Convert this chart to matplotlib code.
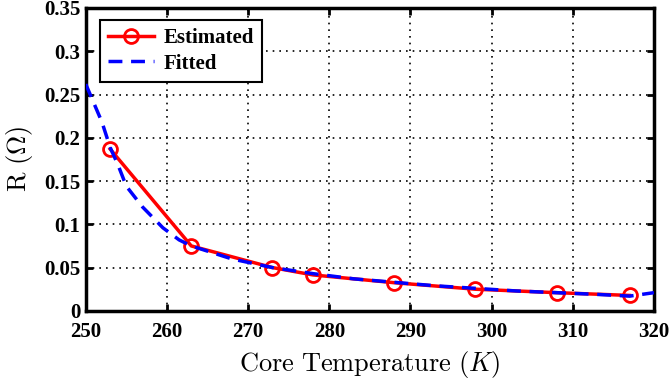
import numpy as np
import matplotlib.pyplot as plt

plt.rcParams['mathtext.fontset'] = 'cm'

# estimated resistance
est_temp = [253, 263, 273, 278, 288, 298, 308, 317]
est_r = [0.187, 0.075, 0.050, 0.0415, 0.0325, 0.025, 0.021, 0.0178]

# fitted curve
fit_temp = [250, 251, 252, 253, 254, 255, 257, 259.5, 261.5, 263, 265, 268,
            270, 273, 278, 283, 288, 293, 298, 303, 308, 313, 317, 320]
fit_r = [0.262, 0.240, 0.218, 0.189, 0.168, 0.144, 0.120, 0.096, 0.082, 0.075,
         0.069, 0.060, 0.056, 0.050, 0.043, 0.037, 0.033, 0.029, 0.026, 0.023,
         0.021, 0.019, 0.017, 0.021]

xticks = [250, 260, 270, 280, 290, 300, 310, 320]
yticks = [0, 0.05, 0.1, 0.15, 0.2, 0.25, 0.3, 0.35]
ytick_labels = ['0', '0.05', '0.1', '0.15', '0.2', '0.25', '0.3', '0.35']

fig = plt.figure(figsize=(6.7, 3.8), dpi=100)
ax = fig.add_axes([0.128, 0.182, 0.848, 0.797])

ax.plot(est_temp, est_r, '-o', color='red', lw=2.5, markersize=10,
        markerfacecolor='none', markeredgewidth=2, label='Estimated', zorder=3)
ax.plot(fit_temp, fit_r, '--', color='blue', lw=2.5, dashes=(4, 2.5),
        label='Fitted', zorder=4)

ax.set_xlim(250, 320)
ax.set_ylim(0, 0.35)
ax.set_xticks(xticks)
ax.set_yticks(yticks)
ax.set_yticklabels(ytick_labels)
for lab in ax.get_xticklabels() + ax.get_yticklabels():
    lab.set_fontfamily('Liberation Serif')
    lab.set_fontweight('bold')
    lab.set_fontsize(15)
ax.tick_params(direction='in', length=5, width=2, top=True, right=True)
ax.tick_params(axis='x', pad=8)
ax.tick_params(axis='y', pad=4)

ax.grid(True, color='black', linestyle=(0, (1, 3)), lw=1.2)
for s in ax.spines.values():
    s.set_linewidth(2.5)

ax.set_xlabel(r'$\mathrm{Core\ Temperature\ }(K)$', fontsize=19, labelpad=5)
ax.set_ylabel(r'$\mathrm{R\ (\Omega)}$', fontsize=19, labelpad=6)

leg = ax.legend(loc='upper left', prop={'family': 'Liberation Serif', 'weight': 'bold', 'size': 15},
                fancybox=False, framealpha=1, edgecolor='black', handlelength=2.2,
                handletextpad=0.45, borderpad=0.4, labelspacing=0.25,
                borderaxespad=0, bbox_to_anchor=(0.0246, 0.96))
leg.get_frame().set_linewidth(1.5)

plt.savefig('out.png', dpi=100)
